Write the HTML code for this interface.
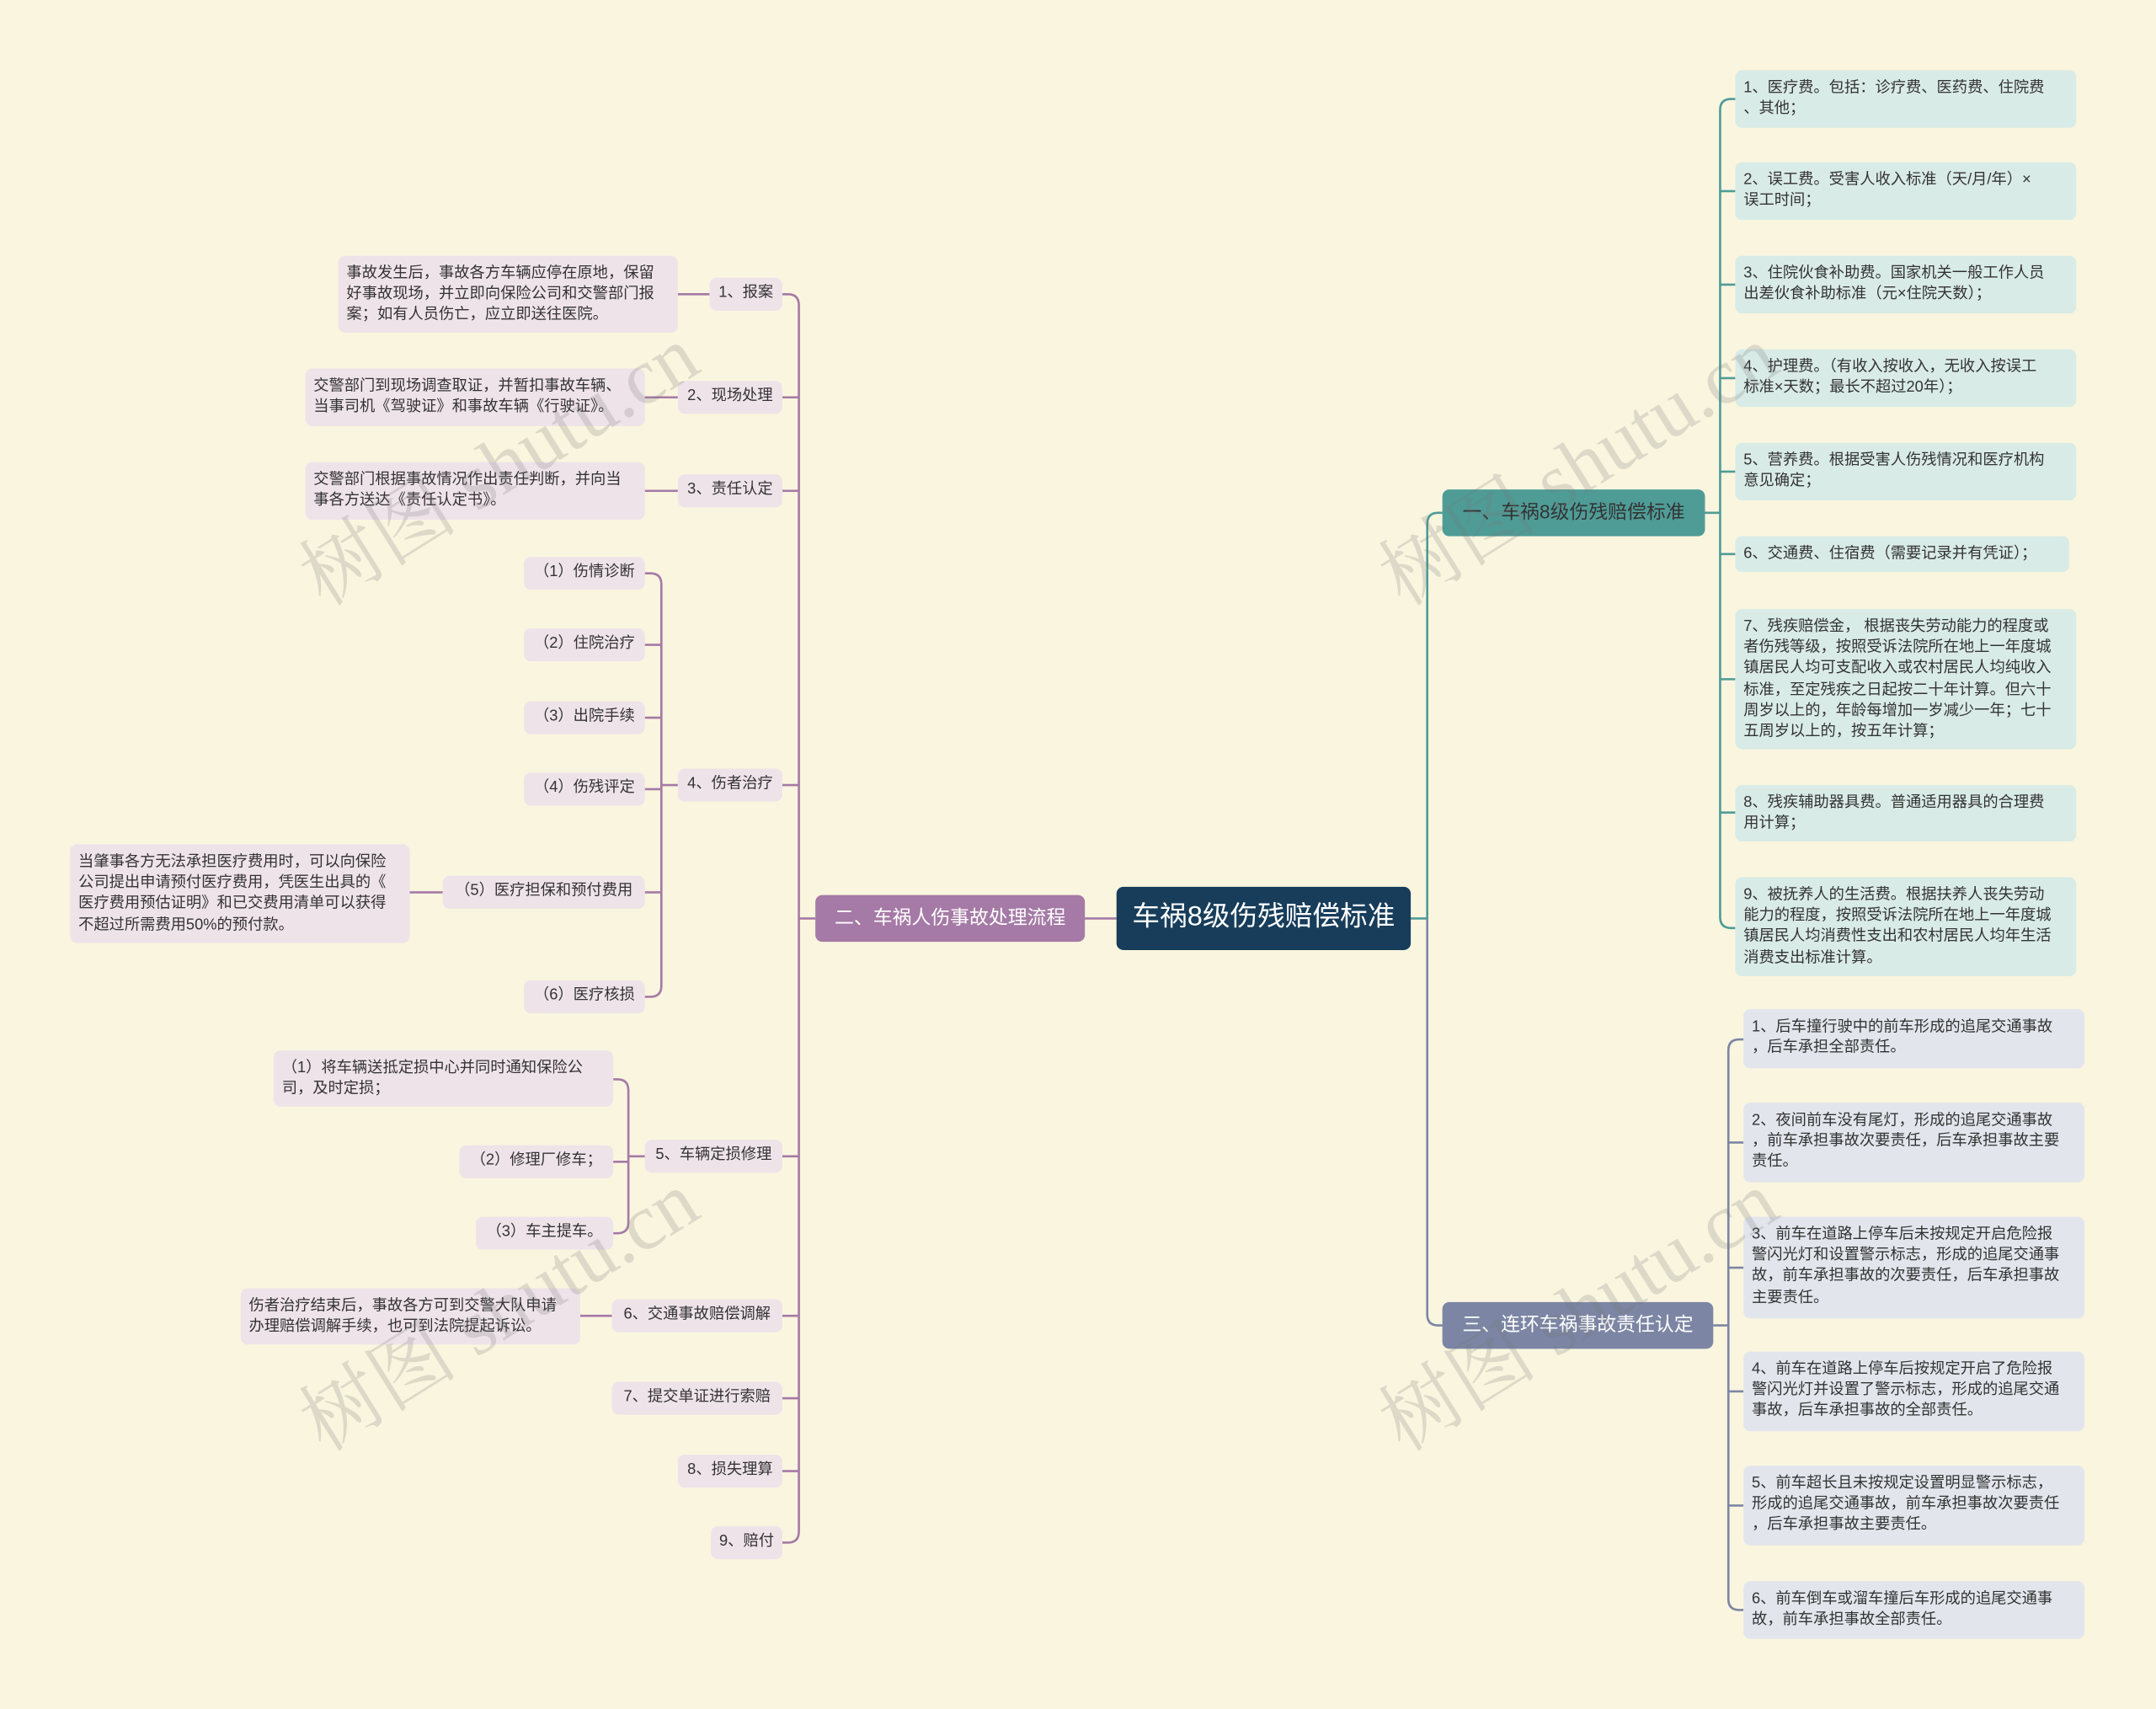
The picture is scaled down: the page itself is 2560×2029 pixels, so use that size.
<!DOCTYPE html>
<html><head><meta charset="utf-8">
<style>
html,body{margin:0;padding:0;background:#faf5df;overflow:hidden;}
#wrap{position:relative;width:1568px;height:1243px;transform:scale(1.63265,1.63234);transform-origin:0 0;background:#faf5df;font-family:"Liberation Sans","Noto Sans CJK SC",sans-serif;}
.n{position:absolute;box-sizing:border-box;border-radius:5px;font-size:11.2px;line-height:15.2px;color:#333;padding:6px 6px 2px 6px;white-space:nowrap;}
.p{background:#efe3ea;}
.t{background:#d9ebe6;}
.s{background:#e2e6ec;}
.c{text-align:right;display:flex;align-items:center;justify-content:center;padding:0 5px;}
svg{position:absolute;left:0;top:0;}
.wm{position:absolute;font-size:58px;color:rgba(120,120,120,0.22);transform:rotate(-32deg);transform-origin:0 0;white-space:nowrap;font-family:"Liberation Serif","Noto Serif CJK SC",serif;}
</style></head><body><div id="wrap">
<svg width="1568" height="1243" fill="none" stroke-width="1.6">
<g stroke="#a57aa6">
<path d="M812 668 H789"/>
<path d="M593 668 H581"/>
<path d="M581 222 Q581 214 573 214 H569 M581 222 V1114 Q581 1122 573 1122 H569"/>
<path d="M581 289 H569 M581 357 H569 M581 571 H569 M581 841 H569 M581 957 H569 M581 1017 H569 M581 1070 H569"/>
<path d="M516 214 H493 M493 289 H469 M493 357 H469"/>
<path d="M493 571 H481 M481 425 Q481 417 473 417 H469 M481 425 V717 Q481 725 473 725 H469 M481 469 H469 M481 522 H469 M481 574 H469 M481 649 H469"/>
<path d="M322 649 H298"/>
<path d="M469 841 H457 M457 793 Q457 785 449 785 H446 M457 793 V889 Q457 897 449 897 H446 M457 845 H446"/>
<path d="M445 957 H422"/>
</g>
<g stroke="#4f9c97">
<path d="M1026 668 H1038 M1038 381 Q1038 373 1046 373 H1049 M1038 381 V668"/>
<path d="M1240 373 H1251 M1251 80 Q1251 72 1259 72 H1262 M1251 80 V667 Q1251 675 1259 675 H1262"/>
<path d="M1251 139 H1262 M1251 207 H1262 M1251 275 H1262 M1251 343 H1262 M1251 403 H1262 M1251 494 H1262 M1251 591 H1262"/>
</g>
<g stroke="#7c86a4">
<path d="M1038 668 V956 Q1038 964 1046 964 H1049"/>
<path d="M1246 964 H1257 M1257 764 Q1257 756 1265 756 H1268 M1257 764 V1163 Q1257 1171 1265 1171 H1268"/>
<path d="M1257 831 H1268 M1257 922 H1268 M1257 1012 H1268 M1257 1095 H1268"/>
</g>
</svg>

<div class="n c" style="left:812px;top:645px;width:214px;height:46px;background:#173d5b;color:#fff;font-size:20px;border-radius:5px;">车祸8级伤残赔偿标准</div>
<div class="n c" style="left:593px;top:651px;width:196px;height:34px;background:#a57aa6;color:#fff;font-size:14px;">二、车祸人伤事故处理流程</div>
<div class="n c" style="left:1049px;top:356px;width:191px;height:34px;background:#4f9c97;color:#333;font-size:14px;">一、车祸8级伤残赔偿标准</div>
<div class="n c" style="left:1049px;top:947px;width:197px;height:34px;background:#7c86a4;color:#fff;font-size:14px;">三、连环车祸事故责任认定</div>

<div class="n p c" style="left:516px;top:202px;width:53px;height:24px;">1、报案</div>
<div class="n p c" style="left:493px;top:277px;width:76px;height:24px;">2、现场处理</div>
<div class="n p c" style="left:493px;top:345px;width:76px;height:24px;">3、责任认定</div>
<div class="n p c" style="left:493px;top:559px;width:76px;height:24px;">4、伤者治疗</div>
<div class="n p c" style="left:469px;top:829px;width:100px;height:24px;">5、车辆定损修理</div>
<div class="n p c" style="left:445px;top:945px;width:124px;height:24px;">6、交通事故赔偿调解</div>
<div class="n p c" style="left:445px;top:1005px;width:124px;height:24px;">7、提交单证进行索赔</div>
<div class="n p c" style="left:493px;top:1058px;width:76px;height:24px;">8、损失理算</div>
<div class="n p c" style="left:517px;top:1110px;width:52px;height:24px;">9、赔付</div>

<div class="n p" style="left:246px;top:186px;width:247px;height:56px;">事故发生后，事故各方车辆应停在原地，保留<br>好事故现场，并立即向保险公司和交警部门报<br>案；如有人员伤亡，应立即送往医院。</div>
<div class="n p" style="left:222px;top:268px;width:247px;height:42px;">交警部门到现场调查取证，并暂扣事故车辆、<br>当事司机《驾驶证》和事故车辆《行驶证》。</div>
<div class="n p" style="left:222px;top:336px;width:247px;height:42px;">交警部门根据事故情况作出责任判断，并向当<br>事各方送达《责任认定书》。</div>

<div class="n p c" style="left:381px;top:405px;width:88px;height:24px;">（1）伤情诊断</div>
<div class="n p c" style="left:381px;top:457px;width:88px;height:24px;">（2）住院治疗</div>
<div class="n p c" style="left:381px;top:510px;width:88px;height:24px;">（3）出院手续</div>
<div class="n p c" style="left:381px;top:562px;width:88px;height:24px;">（4）伤残评定</div>
<div class="n p c" style="left:322px;top:637px;width:147px;height:24px;">（5）医疗担保和预付费用</div>
<div class="n p c" style="left:381px;top:713px;width:88px;height:24px;">（6）医疗核损</div>
<div class="n p" style="left:51px;top:614px;width:247px;height:72px;">当肇事各方无法承担医疗费用时，可以向保险<br>公司提出申请预付医疗费用，凭医生出具的《<br>医疗费用预估证明》和已交费用清单可以获得<br>不超过所需费用50%的预付款。</div>

<div class="n p" style="left:199px;top:764px;width:247px;height:41px;">（1）将车辆送抵定损中心并同时通知保险公<br>司，及时定损；</div>
<div class="n p c" style="left:334px;top:833px;width:112px;height:24px;">（2）修理厂修车；</div>
<div class="n p c" style="left:346px;top:885px;width:100px;height:24px;">（3）车主提车。</div>
<div class="n p" style="left:175px;top:937px;width:247px;height:41px;">伤者治疗结束后，事故各方可到交警大队申请<br>办理赔偿调解手续，也可到法院提起诉讼。</div>

<div class="n t" style="left:1262px;top:51px;width:248px;height:42px;">1、医疗费。包括：诊疗费、医药费、住院费<br>、其他；</div>
<div class="n t" style="left:1262px;top:118px;width:248px;height:42px;">2、误工费。受害人收入标准（天/月/年）×<br>误工时间；</div>
<div class="n t" style="left:1262px;top:186px;width:248px;height:42px;">3、住院伙食补助费。国家机关一般工作人员<br>出差伙食补助标准（元×住院天数）；</div>
<div class="n t" style="left:1262px;top:254px;width:248px;height:42px;">4、护理费。（有收入按收入，无收入按误工<br>标准×天数；最长不超过20年）；</div>
<div class="n t" style="left:1262px;top:322px;width:248px;height:42px;">5、营养费。根据受害人伤残情况和医疗机构<br>意见确定；</div>
<div class="n t" style="left:1262px;top:390px;width:243px;height:26px;">6、交通费、住宿费（需要记录并有凭证）；</div>
<div class="n t" style="left:1262px;top:443px;width:248px;height:102px;">7、残疾赔偿金， 根据丧失劳动能力的程度或<br>者伤残等级，按照受诉法院所在地上一年度城<br>镇居民人均可支配收入或农村居民人均纯收入<br>标准，至定残疾之日起按二十年计算。但六十<br>周岁以上的，年龄每增加一岁减少一年；七十<br>五周岁以上的，按五年计算；</div>
<div class="n t" style="left:1262px;top:571px;width:248px;height:41px;">8、残疾辅助器具费。普通适用器具的合理费<br>用计算；</div>
<div class="n t" style="left:1262px;top:638px;width:248px;height:72px;">9、被抚养人的生活费。根据扶养人丧失劳动<br>能力的程度，按照受诉法院所在地上一年度城<br>镇居民人均消费性支出和农村居民人均年生活<br>消费支出标准计算。</div>

<div class="n s" style="left:1268px;top:734px;width:248px;height:43px;">1、后车撞行驶中的前车形成的追尾交通事故<br>，后车承担全部责任。</div>
<div class="n s" style="left:1268px;top:802px;width:248px;height:58px;">2、夜间前车没有尾灯，形成的追尾交通事故<br>，前车承担事故次要责任，后车承担事故主要<br>责任。</div>
<div class="n s" style="left:1268px;top:885px;width:248px;height:74px;">3、前车在道路上停车后未按规定开启危险报<br>警闪光灯和设置警示标志，形成的追尾交通事<br>故，前车承担事故的次要责任，后车承担事故<br>主要责任。</div>
<div class="n s" style="left:1268px;top:983px;width:248px;height:58px;">4、前车在道路上停车后按规定开启了危险报<br>警闪光灯并设置了警示标志，形成的追尾交通<br>事故，后车承担事故的全部责任。</div>
<div class="n s" style="left:1268px;top:1066px;width:248px;height:58px;">5、前车超长且未按规定设置明显警示标志，<br>形成的追尾交通事故，前车承担事故次要责任<br>，后车承担事故主要责任。</div>
<div class="n s" style="left:1268px;top:1150px;width:248px;height:42px;">6、前车倒车或溜车撞后车形成的追尾交通事<br>故，前车承担事故全部责任。</div>

<div class="wm" style="left:200px;top:385px;">树图 shutu.cn</div>
<div class="wm" style="left:200px;top:1000px;">树图 shutu.cn</div>
<div class="wm" style="left:985px;top:385px;">树图 shutu.cn</div>
<div class="wm" style="left:985px;top:1000px;">树图 shutu.cn</div>
</div></body></html>
